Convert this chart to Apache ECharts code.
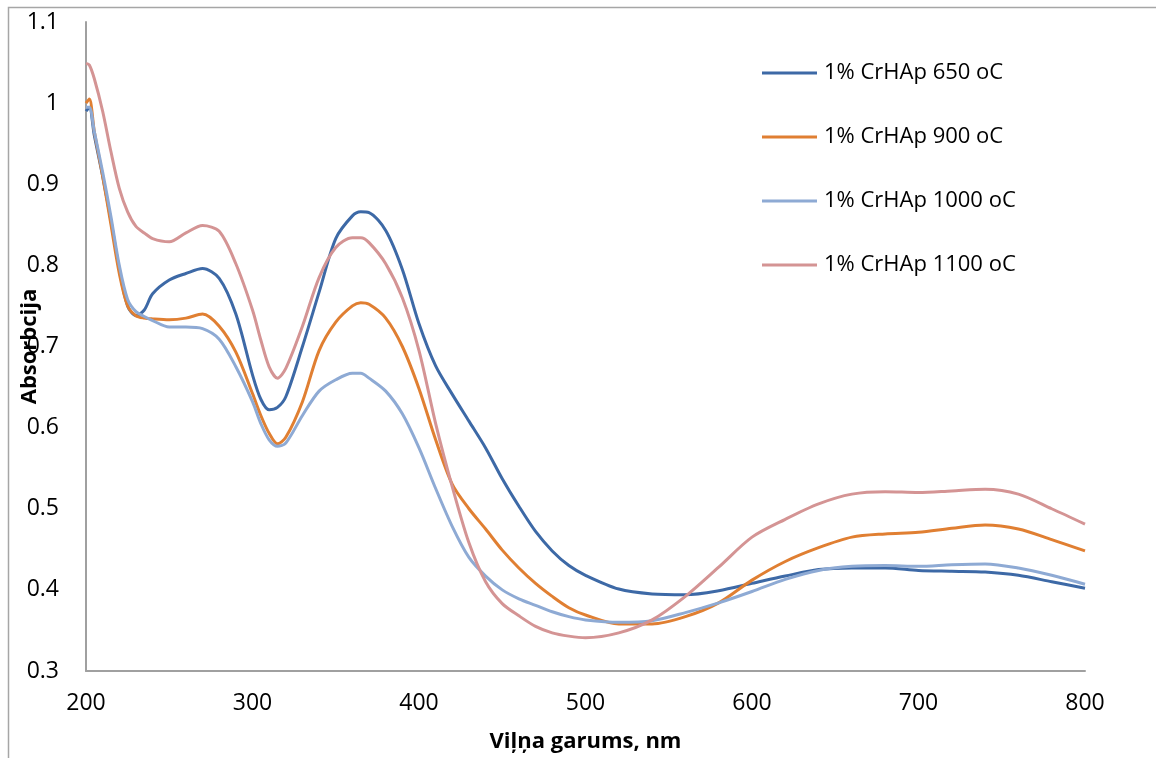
<!DOCTYPE html>
<html>
<head>
<meta charset="utf-8">
<script src="https://cdn.jsdelivr.net/npm/echarts@6/dist/echarts.min.js"></script>
<style>
html,body{margin:0;padding:0;background:#fff;}
#c{width:1156px;height:758px;}
</style>
</head>
<body>
<div id="c"></div>
<script>
var wavelengths = [200,202,205,210,215,220,225,230,235,240,250,260,270,280,290,300,305,310,315,320,330,340,350,360,365,370,380,390,400,410,420,430,440,450,460,470,480,490,500,520,540,560,580,600,620,640,660,680,700,720,740,760,780,800];

var s650 = [0.990,0.995,0.960,0.910,0.855,0.795,0.750,0.738,0.745,0.765,0.782,0.790,0.796,0.784,0.740,0.665,0.635,0.622,0.625,0.638,0.700,0.767,0.833,0.861,0.866,0.865,0.843,0.795,0.728,0.676,0.641,0.608,0.575,0.537,0.503,0.472,0.448,0.430,0.418,0.401,0.395,0.394,0.399,0.408,0.417,0.425,0.427,0.427,0.424,0.423,0.422,0.418,0.410,0.402];

var s900 = [1.000,1.005,0.965,0.910,0.850,0.790,0.750,0.738,0.735,0.734,0.733,0.735,0.740,0.725,0.693,0.642,0.615,0.593,0.580,0.588,0.632,0.695,0.730,0.750,0.754,0.752,0.735,0.700,0.648,0.585,0.530,0.500,0.475,0.449,0.427,0.408,0.392,0.378,0.369,0.358,0.358,0.367,0.384,0.412,0.435,0.452,0.465,0.469,0.471,0.476,0.480,0.475,0.462,0.448];

var s1000 = [0.995,0.995,0.965,0.915,0.860,0.800,0.758,0.743,0.737,0.732,0.724,0.724,0.722,0.709,0.675,0.632,0.605,0.585,0.577,0.581,0.615,0.645,0.659,0.667,0.667,0.661,0.645,0.617,0.575,0.525,0.478,0.440,0.417,0.400,0.389,0.381,0.373,0.367,0.363,0.360,0.362,0.372,0.384,0.398,0.413,0.424,0.429,0.430,0.429,0.431,0.432,0.427,0.418,0.407];

var s1100 = [1.049,1.047,1.030,0.990,0.940,0.895,0.866,0.848,0.840,0.833,0.829,0.840,0.849,0.842,0.802,0.745,0.708,0.675,0.661,0.673,0.725,0.785,0.822,0.834,0.834,0.828,0.802,0.760,0.695,0.605,0.527,0.458,0.410,0.383,0.368,0.355,0.347,0.343,0.341,0.347,0.363,0.392,0.428,0.465,0.487,0.506,0.518,0.521,0.520,0.522,0.524,0.518,0.500,0.481];

var seriesNames = ['1% CrHAp 650 oC','1% CrHAp 900 oC','1% CrHAp 1000 oC','1% CrHAp 1100 oC'];
var seriesValues = [s650, s900, s1000, s1100];
var colors = ['#3d69a6','#e07f32','#8eaad4','#d49494'];

function pairs(vals){ return wavelengths.map(function(w,i){ return [w, vals[i]]; }); }

var font = '"Open Sans", "Noto Sans", sans-serif';
var chart = echarts.init(document.getElementById('c'), null, {renderer:'canvas'});
chart.setOption({
  animation:false,
  backgroundColor:'#ffffff',
  color: colors,
  graphic:[{
    type:'rect', shape:{x:8.5,y:7.5,width:1300,height:900},
    style:{fill:'none', stroke:'#a6a6a6', lineWidth:1.5}, silent:true
  }],
  grid:{left:86, right:71, top:22, bottom:87, containLabel:false, outerBoundsMode:'none'},
  legend:{
    orient:'vertical', left:762, top:62, itemGap:42, padding:0,
    icon:'rect', itemWidth:55, itemHeight:3,
    textStyle:{fontFamily:font, fontSize:22, color:'#000', padding:[0,0,0,2]},
    data: seriesNames
  },
  xAxis:{
    type:'value', min:200, max:800, interval:100,
    name:'Viļņa garums, nm', nameLocation:'middle', nameGap:60, nameMoveOverlap:false,
    nameTextStyle:{fontFamily:font, fontSize:22, fontWeight:'bold', color:'#000'},
    axisLine:{show:true, lineStyle:{color:'#a0a0a0', width:2}},
    axisTick:{show:false}, splitLine:{show:false},
    axisLabel:{fontFamily:font, fontSize:23, color:'#000', margin:21}
  },
  yAxis:{
    type:'value', min:0.3, max:1.1, interval:0.1,
    name:'Absorbcija', nameLocation:'middle', nameGap:45, nameRotate:90, nameMoveOverlap:false,
    nameTextStyle:{fontFamily:font, fontSize:22, fontWeight:'bold', color:'#000'},
    axisLine:{show:true, lineStyle:{color:'#a0a0a0', width:2}},
    axisTick:{show:false}, splitLine:{show:false},
    axisLabel:{fontFamily:font, fontSize:23, color:'#000', margin:27,
      formatter:function(v){ return String(Math.round(v*10)/10); }}
  },
  series: seriesNames.map(function(n,i){
    return {
      name:n, type:'line', data:pairs(seriesValues[i]), smooth:0.3,
      showSymbol:false, symbol:'none',
      lineStyle:{width:3, color:colors[i]}, itemStyle:{color:colors[i]}
    };
  })
});
</script>
</body>
</html>
